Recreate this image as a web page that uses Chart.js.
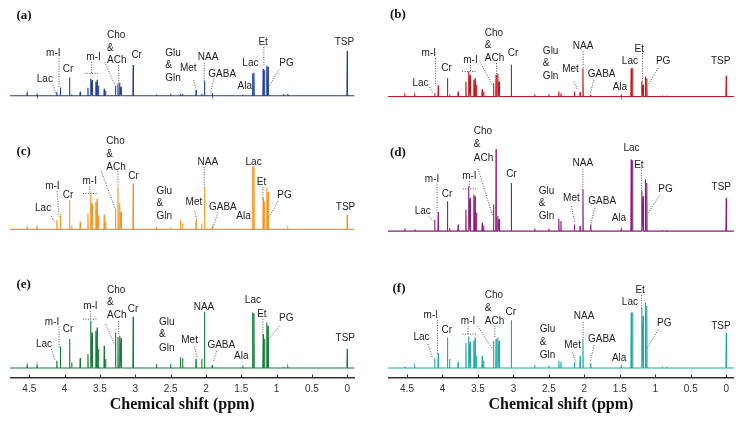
<!DOCTYPE html>
<html><head><meta charset="utf-8">
<script src="https://cdn.jsdelivr.net/npm/chart.js@4.4.1/dist/chart.umd.min.js"></script>
<style>
html,body{margin:0;padding:0;background:#fff;}
body{width:742px;height:428px;position:relative;overflow:hidden;}
canvas{position:absolute;top:0;}
#left{left:10px;} #right{left:388px;}
</style></head><body>
<canvas id="left" width="345" height="428"></canvas>
<canvas id="right" width="346" height="428"></canvas>
<script>
// Peak positions (ppm) shared by all spectra
const shifts = [4.53, 4.39, 4.11, 4.06, 3.93, 3.90, 3.78, 3.67, 3.63, 3.61, 3.56, 3.54, 3.52, 3.44, 3.42, 3.28, 3.245, 3.22, 3.20, 3.03, 2.70, 2.50, 2.36, 2.33, 2.14, 2.06, 2.02, 1.91, 1.48, 1.34, 1.32, 1.19, 1.17, 1.14, 1.12, 0.90, 0.84, 0.00];
// Peak intensities (arbitrary units) per panel
const heightA = [2, 1, 3.7, 8.3, 18.3, 1.3, 4, 8, 17, 16, 14, 16, 10, 7, 5, 10, 12, 13, 9, 30.7, 1.3, 2, 2, 2, 5.7, 2, 14.7, 1.3, 1, 22.3, 23, 27, 25.7, 30.3, 29, 1.7, 1.7, 45];
const heightB = [1, 1, 3.3, 11, 18.3, 2, 5, 15, 25, 21.7, 16.7, 18.3, 11.7, 7.3, 5, 13.3, 21.7, 22.7, 15, 31.7, 2.3, 2, 5, 3, 5, 4.3, 28.3, 1.7, 1, 28.3, 28.3, 15, 12, 20, 18.3, 1, 1, 20.7];
const heightC = [1.7, 2, 9.3, 15, 29.3, 4, 7.7, 16, 36, 26, 27.7, 31, 14.3, 15, 7.7, 21, 41.7, 26, 17.7, 46, 2.7, 2, 9.3, 6, 9.3, 6, 41.7, 2, 1, 63.3, 63, 31.7, 27.7, 41.7, 37.7, 1, 1, 15];
const heightD = [2.7, 1.7, 11.7, 19, 30, 3, 6.7, 21.7, 45, 33.3, 36.7, 35, 18.3, 8.3, 5, 26.7, 82.3, 15, 12, 48.3, 2.7, 2.3, 12.3, 10, 6.7, 5, 42.3, 6.7, 1.7, 71.7, 71, 40, 35, 51.7, 48.3, 1, 1, 33.3];
const heightE = [2.3, 2.3, 7.3, 21.7, 29, 5.7, 10, 14, 47.3, 35.7, 37.3, 40.7, 19, 22.3, 9, 35.7, 31, 32.3, 30, 51.3, 4, 4, 10.7, 9.7, 9, 9, 56.3, 3, 2.3, 55.7, 55, 34, 29, 45.7, 42.3, 1, 1, 19];
const heightF = [1.7, 1.3, 9.7, 14.7, 30.7, 9, 6.3, 25, 31.7, 26.3, 27.3, 30.7, 12.3, 12.3, 7.3, 27.3, 29, 30.7, 27.3, 48, 3, 2.3, 7.3, 6.3, 5.7, 12.3, 29, 5, 1.7, 55.7, 55.7, 60.7, 52.3, 65.7, 62.3, 1.3, 1.3, 35];
// x-axis tick labels
const tickValues = [4.5, 4, 3.5, 3, 2.5, 2, 1.5, 1, 0.5, 0];

// Annotations: [text, ppm, intensity, align]
const labelsA = [['Lac',4.28,16.3],['m-I',4.16,42.3],['Cr',3.95,26.3],['m-I',3.59,38.3],['Cho',3.40,60.7,'l'],['&',3.40,48,'l'],['ACh',3.40,35.7,'l'],['Cr',2.98,40.7],['Glu',2.575,43,'l'],['&',2.575,30.7,'l'],['Gln',2.575,17.3,'l'],['Met',2.25,27.3],['NAA',1.97,38.3],['GABA',1.77,21.7],['Ala',1.45,9.7],['Lac',1.37,33],['Et',1.19,54],['PG',0.86,32.3],['TSP',0.04,54]];
const leadersA = [[4.164,10.7,4.126,2.4],[4.08,37.4,4.08,9],[3.62,34,3.62,22.4],[3.716,22.4,3.527,22.4],[3.433,34,3.29,10.7],[3.235,30.7,3.235,12.4],[2.174,15.7,2.136,5.7],[2.023,33,2.023,14],[1.887,17.4,1.935,2.4],[1.18,49,1.18,29],[0.967,26.4,1.109,9]];
const labelsB = [['Lac',4.31,13.4],['m-I',4.193,43.4],['Cr',3.944,28.4],['m-I',3.605,36.7],['Cho',3.403,63.4,'l'],['&',3.403,51.7,'l'],['ACh',3.403,38.4,'l'],['Cr',3.004,43.4],['Glu',2.585,45,'l'],['&',2.585,33.4,'l'],['Gln',2.585,20,'l'],['Met',2.195,27.4],['NAA',2.017,50],['GABA',1.757,22.7],['Ala',1.499,9.4],['Lac',1.358,35],['Et',1.227,47.4],['PG',0.889,35],['TSP',0.079,35]];
const leadersB = [[4.179,9.4,4.132,2.7],[4.099,38.4,4.099,10.7],[3.605,31.7,3.605,25],[3.724,25,3.512,25],[3.474,35,3.30,11.7],[3.238,33.4,3.238,21.7],[2.148,15,2.10,7.4],[2.017,45,2.017,28.4],[1.866,16.7,1.922,1.7],[1.18,43.4,1.18,15],[0.963,28.4,1.104,10.7]];
const labelsC = [['Lac',4.305,20.7],['m-I',4.173,43.3],['Cr',3.952,34],['m-I',3.645,48.3],['Cho',3.409,88.3,'l'],['&',3.409,75,'l'],['ACh',3.409,62.7,'l'],['Cr',3.023,53.3],['Glu',2.70,38.3,'l'],['&',2.70,26,'l'],['Gln',2.70,12.7,'l'],['Met',2.17,27.3],['NAA',1.972,67.7],['GABA',1.76,22.7],['Ala',1.467,12.7],['Lac',1.325,67.3],['Et',1.212,47.3],['PG',0.887,34],['TSP',0.024,22.7]];
const leadersC = [[4.187,13.3,4.14,6.7],[4.107,38.3,4.079,12.7],[3.645,43,3.645,36],[3.74,36,3.528,36],[3.48,58.3,3.29,21.7],[3.245,58.3,3.245,41.7],[2.16,18.3,2.127,8.3],[2.023,62.7,2.023,41.7],[1.83,17.3,1.90,1.7],[1.194,42.7,1.194,30],[0.982,28.3,1.109,11.7]];
const labelsD = [['Lac',4.278,20],['m-I',4.147,51.7],['Cr',3.935,36.7],['m-I',3.62,55],['Cho',3.559,100,'l'],['&',3.559,86.7,'l'],['ACh',3.559,73.4,'l'],['Cr',3.028,56.7],['Glu',2.642,40,'l'],['&',2.642,27.7,'l'],['Gln',2.642,14.4,'l'],['Met',2.182,33.4],['NAA',2.021,68.4],['GABA',1.749,30],['Ala',1.513,12.4],['Lac',1.336,82.7],['Et',1.231,66],['PG',0.856,42.4],['TSP',0.07,44.4]];
const leadersD = [[4.185,14.4,4.137,10],[4.076,46.7,4.076,18.4],[3.62,50,3.62,42.4],[3.714,42.4,3.512,42.4],[3.498,62.4,3.29,15],[2.182,25,2.134,8.4],[2.021,62.4,2.021,42.4],[1.852,23.4,1.914,5],[1.195,61,1.195,40],[0.94,35.7,1.10,18.4]];
const labelsE = [['Lac',4.291,24],['m-I',4.178,46.3],['Cr',3.952,39],['m-I',3.635,62.3],['Cho',3.40,78.3,'l'],['&',3.40,65.7,'l'],['ACh',3.40,53,'l'],['Cr',3.033,59],['Glu',2.665,46.3,'l'],['&',2.665,34,'l'],['Gln',2.665,19.7,'l'],['Met',2.231,28.3],['NAA',2.028,61.3],['GABA',1.782,23],['Ala',1.50,12.3],['Lac',1.335,68],['Et',1.208,54],['PG',0.863,49.7],['TSP',0.028,30]];
const leadersE = [[4.187,19,4.14,8.3],[4.079,41.7,4.079,20.7],[3.635,57.3,3.635,49],[3.74,49,3.542,49],[3.419,44,3.29,23],[3.235,47.3,3.235,32.3],[2.16,21.7,2.127,10.7],[1.844,17.3,1.90,5.7],[1.194,49,1.194,34],[0.958,42.3,1.109,29]];
const labelsF = [['Lac',4.296,30.7],['m-I',4.165,53],['Cr',3.939,38],['m-I',3.639,47.3],['Cho',3.403,73,'l'],['&',3.403,60,'l'],['ACh',3.403,46.7,'l'],['Cr',3.037,55.7],['Glu',2.628,39,'l'],['&',2.628,26.3,'l'],['Gln',2.628,13,'l'],['Met',2.166,23],['NAA',2.003,51.7],['GABA',1.753,29],['Ala',1.509,10],['Lac',1.358,65.7],['Et',1.213,78.3],['PG',0.874,45],['TSP',0.075,42.3]];
const leadersF = [[4.203,24,4.141,9.7],[4.07,48,4.07,14],[3.639,42.3,3.639,34],[3.718,34,3.516,34],[3.506,42.3,3.295,19],[3.262,42.3,3.262,30.7],[2.166,15.7,2.12,5.7],[2.017,46.3,2.017,29],[1.861,23,1.918,5.7],[1.193,73,1.193,59],[0.959,38.3,1.109,20.7]];

const HW = 0.004; // half width of a peak line (ppm)
function spectrum(heights, offset, xmin, xmax) {
  const pts = [{x: xmax, y: offset}];
  shifts.forEach((p, i) => {
    pts.push({x: p + HW, y: offset}, {x: p, y: offset + heights[i]}, {x: p - HW, y: offset});
  });
  pts.push({x: xmin, y: offset});
  return pts;
}

function notesPlugin(panels) {
  return {
    id: 'notes',
    afterDatasetsDraw(chart) {
      const ctx = chart.ctx, xs = chart.scales.x, ys = chart.scales.y;
      const X = v => xs.getPixelForValue(v);
      ctx.save();
      ctx.strokeStyle = '#333'; ctx.lineWidth = 1;
      const yb = chart.chartArea.bottom;
      tickValues.forEach(v => {
        const px = Math.round(X(v)) + 0.5;
        ctx.beginPath(); ctx.moveTo(px, yb); ctx.lineTo(px, yb - 3.5); ctx.stroke();
      });
      panels.forEach(p => {
        const Y = h => ys.getPixelForValue(p.offset + h);
        ctx.setLineDash([1, 1.5]); ctx.strokeStyle = '#444'; ctx.lineWidth = 0.9;
        p.leaders.forEach(([x1, h1, x2, h2]) => {
          ctx.beginPath(); ctx.moveTo(X(x1), Y(h1)); ctx.lineTo(X(x2), Y(h2)); ctx.stroke();
        });
        ctx.setLineDash([]);
        ctx.fillStyle = '#222';
        ctx.font = '10px "Liberation Sans", Arial, sans-serif';
        ctx.textBaseline = 'middle';
        p.labels.forEach(([t, x, h, a]) => {
          ctx.textAlign = a === 'l' ? 'left' : 'center';
          ctx.fillText(t, X(x), Y(h));
        });
        ctx.font = 'bold 13px "Liberation Serif", "Times New Roman", serif';
        ctx.fillStyle = '#111'; ctx.textAlign = 'left';
        ctx.fillText(p.tag, X(p.tagX), Y(p.tagH));
      });
      ctx.restore();
    }
  };
}

Chart.defaults.font.family = '"Liberation Sans", Arial, sans-serif';

function makeChart(id, panels, xmin, xmax) {
  return new Chart(document.getElementById(id), {
    type: 'line',
    data: {
      datasets: panels.map(p => ({
        data: spectrum(p.heights, p.offset, xmin, xmax),
        borderColor: p.color, borderWidth: 1.1, pointRadius: 0, tension: 0, fill: false
      }))
    },
    options: {
      responsive: false, animation: false,
      layout: {padding: {left: 0, right: 0, top: 0, bottom: 13.3}},
      plugins: {legend: {display: false}, tooltip: {enabled: false}},
      scales: {
        x: {
          type: 'linear', min: xmin, max: xmax, reverse: true,
          afterBuildTicks: s => { s.ticks = tickValues.map(v => ({value: v})); },
          grid: {display: false, drawTicks: false},
          border: {display: true, color: '#333', width: 1.5},
          ticks: {padding: 5, color: '#333', font: {size: 10}, autoSkip: false, maxRotation: 0, callback: v => String(v)},
          title: {display: true, text: 'Chemical shift (ppm)', color: '#111',
            font: {family: '"Liberation Serif", "Times New Roman", serif', size: 16, weight: 'bold'},
            padding: {top: -4.5, bottom: 0}}
        },
        y: {display: false, min: -10, max: 369}
      }
    },
    plugins: [notesPlugin(panels)]
  });
}

makeChart('left', [
  {heights: heightA, offset: 273, color: '#233f98', labels: labelsA, leaders: leadersA, tag: '(a)', tagX: 4.682, tagH: 80.7},
  {heights: heightC, offset: 139, color: '#f7941d', labels: labelsC, leaders: leadersC, tag: '(c)', tagX: 4.682, tagH: 78.3},
  {heights: heightE, offset: 0, color: '#137a3a', labels: labelsE, leaders: leadersE, tag: '(e)', tagX: 4.682, tagH: 84}
], -0.103, 4.773);

makeChart('right', [
  {heights: heightB, offset: 272.3, color: '#c3161c', labels: labelsB, leaders: leadersB, tag: '(b)', tagX: 4.74, tagH: 81.7},
  {heights: heightD, offset: 137.3, color: '#8a1a7b', labels: labelsD, leaders: leadersD, tag: '(d)', tagX: 4.74, tagH: 78.4},
  {heights: heightF, offset: 0, color: '#1fa8a6', labels: labelsF, leaders: leadersF, tag: '(f)', tagX: 4.705, tagH: 79.7}
], -0.1085, 4.768);
</script>
</body></html>
